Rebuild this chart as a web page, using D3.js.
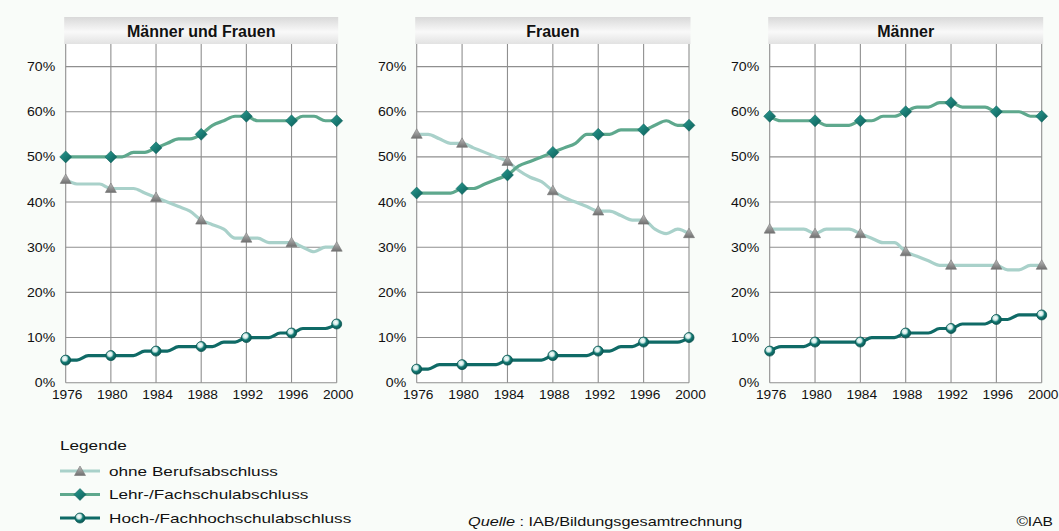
<!DOCTYPE html>
<html><head><meta charset="utf-8">
<script src="https://cdn.jsdelivr.net/npm/d3@7/dist/d3.min.js"></script>
<style>
html,body{margin:0;padding:0;background:#f9fcf9;}
svg{display:block;font-family:"Liberation Sans",Arial,sans-serif;}
</style></head>
<body>
<svg id="c" width="1059" height="531"></svg>
<script>
const years = [1976,1977,1978,1979,1980,1981,1982,1983,1984,1985,1986,1987,1988,1989,1990,1991,1992,1993,1994,1995,1996,1997,1998,1999,2000];
const xTicks = [1976,1980,1984,1988,1992,1996,2000];
const yTicks = [0,10,20,30,40,50,60,70];
const panelTitles = ["Männer und Frauen","Frauen","Männer"];
const seriesNames = ["ohne Berufsabschluss","Lehr-/Fachschulabschluss","Hoch-/Fachhochschulabschluss"];

const mfOhne = [45,44,44,44,43,43,43,42,41,40,39,38,36,35,34,32,32,32,31,31,31,30,29,30,30];
const mfLehr = [50,50,50,50,50,50,51,51,52,53,54,54,55,57,58,59,59,58,58,58,58,59,59,58,58];
const mfHoch = [5,5,6,6,6,6,6,7,7,7,8,8,8,8,9,9,10,10,10,11,11,12,12,12,13];

const fOhne = [55,55,54,53,53,52,51,50,49,47,45.5,44.5,42.5,41,40,39,38,38,37,36,36,34,33,34,33];
const fLehr = [42,42,42,42,43,43,44,45,46,48,49,50,51,52,53,55,55,55,56,56,56,57,58,57,57];
const fHoch = [3,3,4,4,4,4,4,4,5,5,5,5,6,6,6,6,7,7,8,8,9,9,9,9,10];

const mOhne = [34,34,34,34,33,34,34,34,33,32,31,31,29,28,27,26,26,26,26,26,26,25,25,26,26];
const mLehr = [59,58,58,58,58,57,57,57,58,58,59,59,60,61,61,62,62,61,61,61,60,60,60,59,59];
const mHoch = [7,8,8,8,9,9,9,9,9,10,10,10,11,11,11,12,12,13,13,13,14,14,15,15,15];

const panelData = [[mfOhne,mfLehr,mfHoch],[fOhne,fLehr,fHoch],[mOhne,mLehr,mHoch]];

const lineColors = ["#a9d1ca","#5ea88d","#0f6a66"];
const panelX = [[65.7,336.7],[416.7,689],[769.7,1041.7]];

const svg = d3.select("#c");
const defs = svg.append("defs");
const hg = defs.append("linearGradient").attr("id","hg").attr("x1",0).attr("y1",0).attr("x2",0).attr("y2",1);
hg.append("stop").attr("offset","0%").attr("stop-color","#d9d9d9");
hg.append("stop").attr("offset","55%").attr("stop-color","#f9f9f9");
hg.append("stop").attr("offset","100%").attr("stop-color","#e2e2e2");
const cg = defs.append("radialGradient").attr("id","cg").attr("cx","40%").attr("cy","35%").attr("r","65%");
cg.append("stop").attr("offset","0%").attr("stop-color","#ffffff");
cg.append("stop").attr("offset","35%").attr("stop-color","#cfe9e6");
cg.append("stop").attr("offset","60%").attr("stop-color","#137a74");
cg.append("stop").attr("offset","100%").attr("stop-color","#0a5552");
const dg = defs.append("linearGradient").attr("id","dg").attr("x1",0).attr("y1",0).attr("x2",1).attr("y2",1);
dg.append("stop").attr("offset","0%").attr("stop-color","#2a9a90");
dg.append("stop").attr("offset","100%").attr("stop-color","#0b5e59");
const tg = defs.append("linearGradient").attr("id","tg").attr("x1",0).attr("y1",0).attr("x2",0).attr("y2",1);
tg.append("stop").attr("offset","0%").attr("stop-color","#bdbdbd");
tg.append("stop").attr("offset","100%").attr("stop-color","#6f6f6f");

const yTop = 44, yBot = 382.7;
const y = d3.scaleLinear().domain([0,75]).range([yBot,yTop]);

// text with horizontal stretch (reference glyphs are wider than the installed Arial-metric font)
function stext(g, x, yy, str, size, sx, anchor){
  return g.append("text").attr("x",0).attr("y",0)
    .attr("transform",`translate(${x},${yy}) scale(${sx},1)`)
    .attr("font-size",size).attr("fill","#111").attr("text-anchor",anchor||"start").text(str);
}

function drawMarker(g, type, cx, cy){
  if(type===0){
    g.append("path").attr("d",`M${cx},${cy-5.5}L${cx+5.5},${cy+4}L${cx-5.5},${cy+4}Z`)
      .attr("fill","url(#tg)").attr("stroke","#777").attr("stroke-width",0.6);
  } else if(type===1){
    g.append("path").attr("d",`M${cx},${cy-6}L${cx+6},${cy}L${cx},${cy+6}L${cx-6},${cy}Z`)
      .attr("fill","url(#dg)").attr("stroke","#0b5e59").attr("stroke-width",0.5);
  } else {
    g.append("circle").attr("cx",cx).attr("cy",cy).attr("r",5).attr("fill","url(#cg)")
      .attr("stroke","#0a5552").attr("stroke-width",0.8);
  }
}

panelData.forEach((series,pi)=>{
  const [x0,x1] = panelX[pi];
  const x = d3.scaleLinear().domain([1976,2000]).range([x0,x1]);
  const g = svg.append("g");
  g.append("rect").attr("x",x0).attr("y",yTop).attr("width",x1-x0).attr("height",yBot-yTop).attr("fill","#ffffff");
  g.append("rect").attr("x",x0-1.5).attr("y",17).attr("width",x1-x0+3).attr("height",yTop-17).attr("fill","url(#hg)");
  g.append("text").attr("x",(x0+x1)/2).attr("y",37).attr("text-anchor","middle")
    .attr("font-size",16).attr("font-weight","bold").attr("fill","#111").text(panelTitles[pi]);
  g.selectAll(".hg").data(yTicks).join("line")
    .attr("x1",x0).attr("x2",x1).attr("y1",d=>y(d)).attr("y2",d=>y(d))
    .attr("stroke","#8f8f8f").attr("stroke-width",1.1);
  g.selectAll(".vg").data(xTicks).join("line")
    .attr("x1",d=>x(d)).attr("x2",d=>x(d)).attr("y1",yTop).attr("y2",yBot)
    .attr("stroke","#8f8f8f").attr("stroke-width",1.1);
  yTicks.forEach(t=>stext(g, x0-10.5, y(t)+4.5, t+"%", 12.5, 1.13, "end"));
  xTicks.forEach(t=>stext(g, x(t)+1.5, yBot+16, String(t), 12.5, 1.1, "middle"));
  const line = d3.line().x((d,i)=>x(years[i])).y(d=>y(d)).curve(d3.curveMonotoneX);
  series.forEach((vals,si)=>{
    g.append("path").attr("d",line(vals)).attr("fill","none")
      .attr("stroke",lineColors[si]).attr("stroke-width",3.2).attr("stroke-linejoin","round");
  });
  series.forEach((vals,si)=>{
    vals.forEach((v,i)=>{
      if(xTicks.includes(years[i])) drawMarker(g,si,x(years[i]),y(v));
    });
  });
});

// legend
const lg = svg.append("g");
stext(lg, 60, 450, "Legende", 13, 1.32);
seriesNames.forEach((name,i)=>{
  const cy = 471 + i*23.5;
  lg.append("line").attr("x1",60).attr("x2",100).attr("y1",cy).attr("y2",cy)
    .attr("stroke",lineColors[i]).attr("stroke-width",3);
  drawMarker(lg,i,80,cy + (i===0?0.5:0));
  stext(lg, 109, cy+4.5, name, 13, 1.32);
});

// source
const st = svg.append("text").attr("x",0).attr("y",0)
  .attr("transform","translate(468,526) scale(1.25,1)").attr("font-size",13).attr("fill","#111");
st.append("tspan").attr("font-style","italic").text("Quelle");
st.append("tspan").text(" : IAB/Bildungsgesamtrechnung");
stext(svg, 1053, 526, "©IAB", 13, 1.2, "end");
</script>
</body></html>
